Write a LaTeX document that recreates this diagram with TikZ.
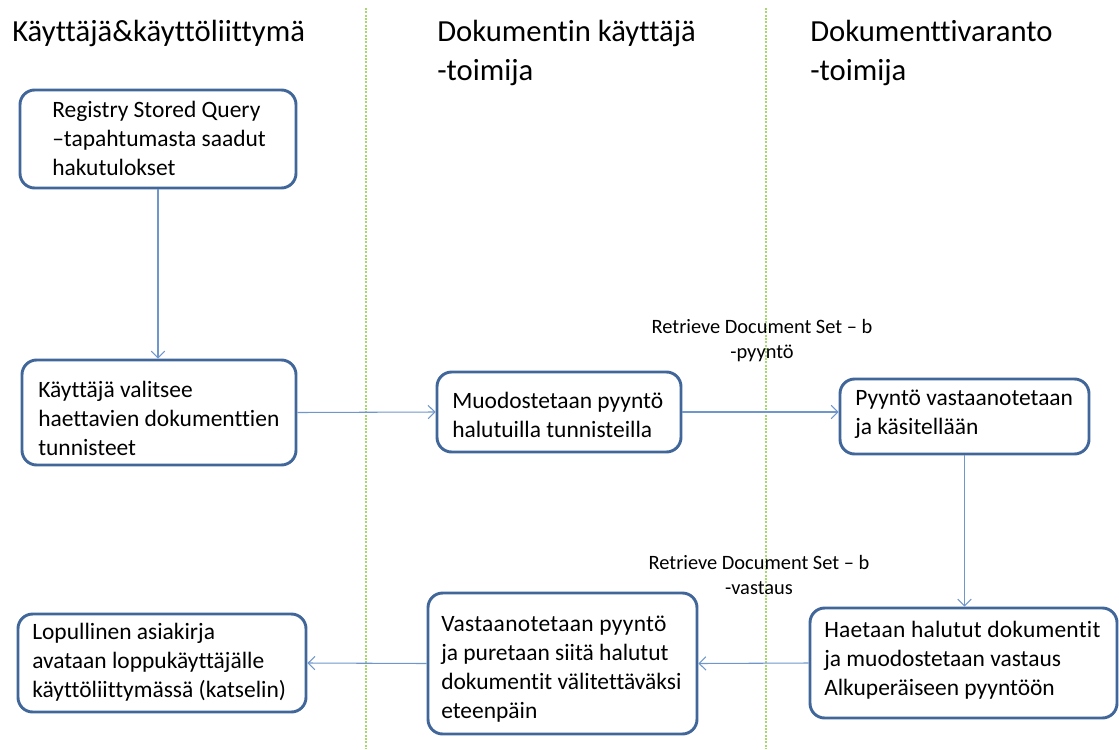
\documentclass[tikz,border=0pt]{standalone}
\usepackage{fontspec}
\setmainfont{Carlito}[Ligatures=NoCommon]
\newfontfamily\widefont{Carlito}[LetterSpace=1.0,Ligatures=NoCommon]
\newfontfamily\semiwidefont{Carlito}[LetterSpace=1.3,Ligatures=NoCommon]
\usetikzlibrary{arrows.meta}
\definecolor{boxline}{HTML}{41679A}
\definecolor{flow}{HTML}{6F97CB}
\definecolor{lane}{HTML}{A6D86E}
\begin{document}
\begin{tikzpicture}[x=0.75pt,y=-0.75pt,
  box/.style={draw=boxline,line width=2.2pt,rounded corners=11pt,fill=white,inner sep=0pt},
  txt/.style={inner sep=0pt,align=left,anchor=west,font=\fontsize{17.6pt}{21.75pt}\selectfont},
  head/.style={inner sep=0pt,align=left,anchor=west,font=\fontsize{23pt}{29.25pt}\selectfont},
  lbl/.style={inner sep=0pt,align=center,font=\fontsize{15.3pt}{18.75pt}\selectfont},
  flowline/.style={draw=flow,line width=0.8pt,-{Straight Barb[length=5pt,width=10pt]}},
  laneline/.style={draw=lane,line width=0.8pt,dash pattern=on 1.5pt off 1pt}]
\useasboundingbox (0,0) rectangle (1119,749);

% swimlane separators
\coordinate (s1t) at (366,8);
\coordinate (s1b) at (366,749);
\coordinate (s2t) at (766,8);
\coordinate (s2b) at (766,749);
\draw[laneline] (s1t) -- (s1b);
\draw[laneline] (s2t) -- (s2b);

% lane headings
\node[head] (h1) at (12,33) {Käyttäjä\&käyttöliittymä};
\node[head] (h2) at (437,52.5) {Dokumentin käyttäjä\\-toimija};
\node[head] (h3) at (810,52.5) {Dokumenttivaranto\\-toimija};

% process boxes
\node[box,minimum width=276*0.75pt,minimum height=98*0.75pt] (b1) at (158,139) {};
\node[txt] (t1) at (52,138.5) {Registry Stored Query\\–tapahtumasta saadut\\hakutulokset};

\node[box,minimum width=274*0.75pt,minimum height=105*0.75pt] (b2) at (159,412.5) {};
\node[txt] (t2) at (38,418) {Käyttäjä valitsee\\haettavien dokumenttien\\tunnisteet};

\node[box,minimum width=244*0.75pt,minimum height=80*0.75pt] (b3) at (559,412) {};
\node[txt] (t3) at (452,414.5) {Muodostetaan pyyntö\\halutuilla tunnisteilla};

\node[box,minimum width=249*0.75pt,minimum height=75*0.75pt] (b4) at (964.5,416.5) {};
\node[txt] (t4) at (855,414.5) {Pyyntö vastaanotetaan\\ja käsitellään};

\node[box,minimum width=307*0.75pt,minimum height=110*0.75pt] (b5) at (963.5,663) {};
\node[txt] (t5) at (824,660) {\widefont Haetaan halutut dokumentit\\ja muodostetaan vastaus\\Alkuperäiseen pyyntöön};

\node[box,minimum width=269*0.75pt,minimum height=141*0.75pt] (b6) at (562.5,663.5) {};
\node[txt] (t6) at (441,669.5) {\semiwidefont Vastaanotetaan pyyntö\\ja puretaan siitä halutut\\dokumentit välitettäväksi\\eteenpäin};

\node[box,minimum width=288*0.75pt,minimum height=98*0.75pt] (b7) at (162,663) {};
\node[txt] (t7) at (32,662.5) {Lopullinen asiakirja\\avataan loppukäyttäjälle\\käyttöliittymässä (katselin)};

% message labels
\node[lbl] (m1) at (762,341) {Retrieve Document Set – b\\-pyyntö};
\node[lbl] (m2) at (759,575) {Retrieve Document Set – b\\-vastaus};

% flow
\draw[flowline] (b1.south) -- (b1.south |- b2.north);
\draw[flowline] (b2.east) -- (b3.west);
\draw[flowline] (b3.east) -- (b3.east -| b4.west);
\draw[flowline] (b4.south) -- (b4.south |- b5.north);
\draw[flowline] (b5.west) -- (b6.east);
\draw[flowline] (b6.west) -- (b7.east);
\end{tikzpicture}
\end{document}
